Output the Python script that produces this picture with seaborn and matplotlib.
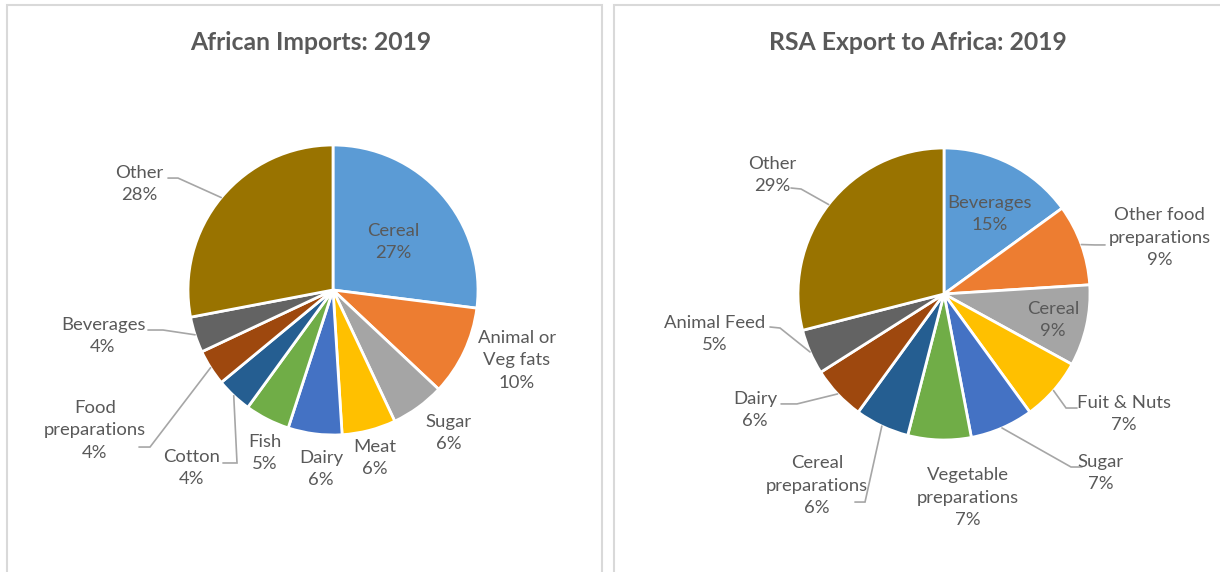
import numpy as np
import matplotlib
matplotlib.use("Agg")
import matplotlib.pyplot as plt
from matplotlib.patches import Rectangle
import seaborn as sns

sns.set_theme(style="white")
plt.rcParams['font.family'] = ['Lato', 'DejaVu Sans']

# data (percent shares)
imp_title = "African Imports: 2019"
imp_labels = ["Cereal", "Animal or\nVeg fats", "Sugar", "Meat", "Dairy", "Fish",
              "Cotton", "Food\npreparations", "Beverages", "Other"]
imp_values = [27, 10, 6, 6, 6, 5, 4, 4, 4, 28]

exp_title = "RSA Export to Africa: 2019"
exp_labels = ["Beverages", "Other food\npreparations", "Cereal", "Fuit & Nuts", "Sugar",
              "Vegetable\npreparations", "Cereal\npreparations", "Dairy", "Animal Feed", "Other"]
exp_values = [15, 9, 9, 7, 7, 7, 6, 6, 5, 29]

# Excel office palette
palette = sns.color_palette(["#5B9BD5", "#ED7D31", "#A5A5A5", "#FFC000", "#4472C4",
                             "#70AD47", "#255E91", "#9E480E", "#636363", "#997300"])

TEXT = "#595959"
LINE = "#A6A6A6"
W, H = 1220, 572

# label placement, in pie-radius units relative to the pie centre
imp_label_pos = [(0.414, 0.331), (1.269, -0.483), (0.80, -0.986), (0.29, -1.159),
                 (-0.083, -1.234), (-0.469, -1.124), (-0.972, -1.228), (-1.641, -0.966),
                 (-1.586, -0.317), (-1.338, 0.731)]
imp_leaders = {9: [(-1.138, 0.772), (-1.069, 0.772)],
               8: [(-1.276, -0.276), (-1.172, -0.276)],
               7: [(-1.338, -1.083), (-1.262, -1.083)],
               6: [(-0.759, -1.193), (-0.662, -1.193)]}

exp_label_pos = [(0.315, 0.548), (1.479, 0.384), (0.747, -0.178), (1.233, -0.822),
                 (1.075, -1.226), (0.164, -1.397), (-0.870, -1.315), (-1.295, -0.795),
                 (-1.568, -0.274), (-1.178, 0.815)]
exp_leaders = {9: [(-1.048, 0.726), (-0.979, 0.719)],
               1: [(1.103, 0.336), (1.034, 0.336)],
               3: [(0.911, -0.781), (0.836, -0.781)],
               4: [(0.945, -1.185), (0.870, -1.185)],
               6: [(-0.610, -1.425), (-0.541, -1.425)],
               7: [(-1.116, -0.753), (-1.007, -0.753)],
               8: [(-1.192, -0.226), (-1.123, -0.233)]}

fig = plt.figure(figsize=(W / 100, H / 100), dpi=100)
ax = fig.add_axes([0, 0, 1, 1])


def draw_pie(values, labels, title, cx, cy, r, label_pos, leaders, title_x):
    c = (cx, H - cy)
    wedges, _ = ax.pie(values, colors=palette, startangle=90, counterclock=False,
                       center=c, radius=r,
                       wedgeprops=dict(edgecolor="white", linewidth=2))
    for i, (lab, v) in enumerate(zip(labels, values)):
        dx, dy = label_pos[i]
        ax.text(c[0] + dx * r, c[1] + dy * r, f"{lab}\n{v:.0f}%", ha="center", va="center",
                color=TEXT, fontsize=13.3, linespacing=1.5)
    for i, pts in leaders.items():
        w = wedges[i]
        mid = np.deg2rad((w.theta1 + w.theta2) / 2)
        xs = [c[0] + p[0] * r for p in pts] + [c[0] + r * np.cos(mid)]
        ys = [c[1] + p[1] * r for p in pts] + [c[1] + r * np.sin(mid)]
        ax.plot(xs, ys, color=LINE, lw=1.2, solid_joinstyle="miter")
    ax.text(title_x, H - 42, title, ha="center", va="center", color=TEXT,
            fontsize=17.8, fontweight="bold")


draw_pie(imp_values, imp_labels, imp_title, 333, 290, 145, imp_label_pos, imp_leaders, 311)
draw_pie(exp_values, exp_labels, exp_title, 944, 294, 146, exp_label_pos, exp_leaders, 918)

# chart panel frames
ax.add_patch(Rectangle((7, -10), 595, H - 5 + 10, fill=False, edgecolor="#D9D9D9", lw=1.5))
ax.add_patch(Rectangle((614, -10), 620, H - 5 + 10, fill=False, edgecolor="#D9D9D9", lw=1.5))

ax.set_xlim(0, W)
ax.set_ylim(0, H)
ax.set_aspect("equal")
ax.axis("off")

fig.savefig("out.png", dpi=100, facecolor="white")
plt.close(fig)
